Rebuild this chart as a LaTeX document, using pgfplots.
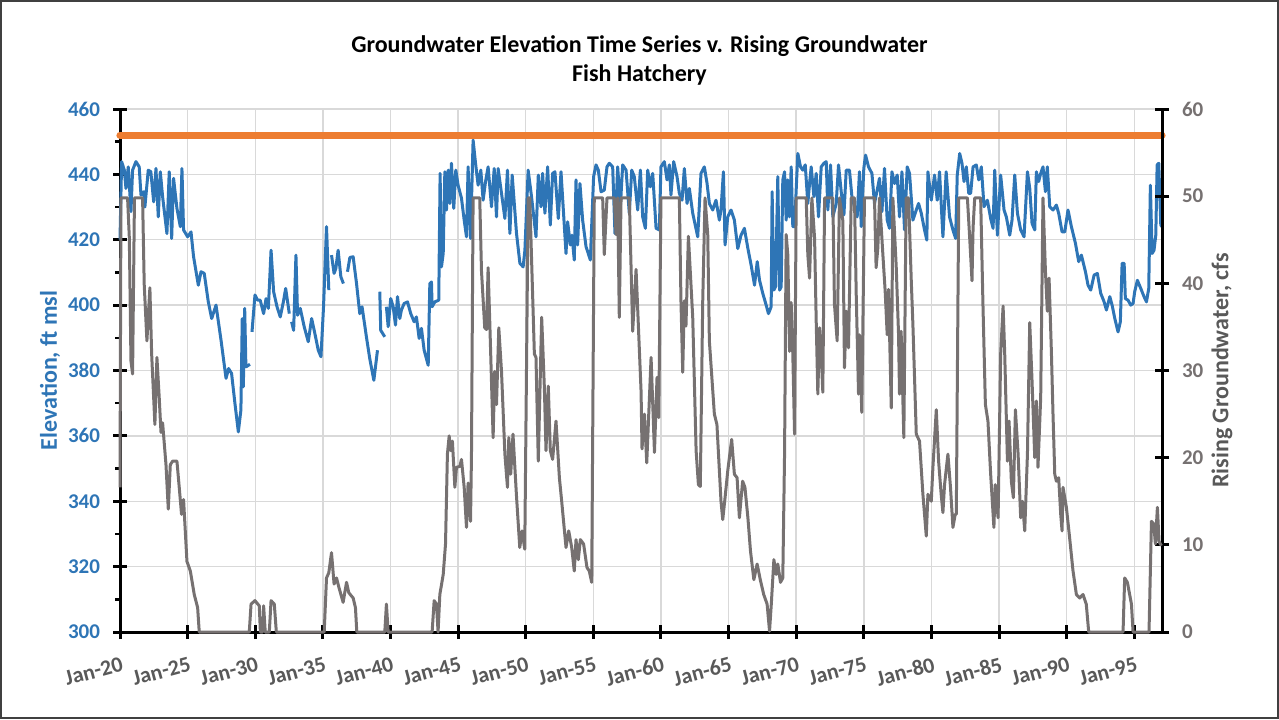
\documentclass[border=0pt]{standalone}
\usepackage{fontspec}
\setmainfont{Carlito}
\usepackage{pgfplots}
\usepackage{pgfplotstable}
\pgfplotsset{compat=1.18}
\definecolor{eblue}{RGB}{46,117,182}
\definecolor{egray}{RGB}{118,113,113}
\definecolor{eorange}{RGB}{237,125,49}
\definecolor{lgray}{RGB}{217,217,217}
\definecolor{tgray}{RGB}{89,89,89}

\pgfplotstableread{
yr el
1920.00 420
1920.12 443.9
1920.32 441.3
1920.44 435.7
1920.61 442.3
1920.81 428.6
1920.93 441.3
1921.18 443.9
1921.42 442.3
1921.55 433.7
1921.75 434.7
1921.84 430
1922.09 441.3
1922.28 440.8
1922.49 431.6
1922.66 441.8
1922.83 427
1922.98 440.8
1923.15 433.2
1923.47 421.9
1923.64 440.8
1923.82 420.4
1923.96 438.8
1924.21 429.6
1924.46 424
1924.58 441.8
1924.70 423
1925.00 420.9
1925.25 422.4
1925.44 414.8
1925.79 406.1
1925.99 410.2
1926.23 409.7
1926.53 401
1926.78 395.9
1927.10 400
1927.47 389.3
1927.84 377.6
1928.03 380.6
1928.25 379.1
1928.50 369.9
1928.75 361.2
1928.94 367.9
1929.04 395.9
1929.12 375
1929.22 399
1929.31 381.1
1929.61 381.9
nan nan
1929.76 391.8
1929.98 403.1
1930.18 401.5
1930.37 401.5
1930.62 397.4
1930.80 402
1930.97 399
1931.17 416.8
1931.36 404.1
1931.61 399.5
1931.85 396.4
1932.08 401
1932.25 405.1
1932.52 397.4
nan nan
1932.69 394.9
1932.84 392.3
1933.01 415.3
1933.13 396.9
1933.33 399
1933.62 393.4
1933.92 388.8
1934.17 395.9
1934.41 391.3
1934.66 386.2
1934.86 384.2
1935.05 399.5
1935.27 424
1935.44 404.6
nan nan
1935.64 415.3
1935.83 409.7
1935.96 411.2
1936.13 416.8
1936.33 408.7
1936.52 406.6
nan nan
1936.82 410.2
1937.00 414.6
1937.24 414.8
1937.49 406.6
1937.73 397.4
1937.90 399.5
1938.22 390.3
1938.47 383.6
1938.77 377
1939.04 386.2
nan nan
1939.21 404.1
1939.28 392.3
1939.58 390.3
nan nan
1939.70 399.5
1939.83 393.4
1940.02 402
1940.20 399.5
1940.37 393.9
1940.52 402.6
1940.69 395.9
1940.81 398.5
1941.01 400.5
1941.26 401
1941.50 397.4
1941.75 394.9
1941.92 396.4
1942.12 389.8
1942.29 392.9
1942.49 386.2
1942.79 381.6
1942.91 406.6
1943.03 407.1
1943.08 399.5
1943.28 401
1943.57 401.5
1943.67 440.3
1943.77 411.7
1943.90 415.8
1944.02 440.8
1944.14 429.1
1944.27 441.3
1944.39 431.1
1944.51 443.4
1944.68 429.6
1944.83 441.3
1945.00 436.7
1945.25 432.7
1945.45 426
1945.62 420.9
1945.74 442.3
1945.92 420.4
1946.11 450.5
1946.29 443.4
1946.48 436.7
1946.68 441.3
1946.85 432.1
1947.03 437.8
1947.22 442.3
1947.47 430.1
1947.67 441.8
1947.84 427
1947.96 441.8
1948.21 434.2
1948.46 426.5
1948.65 441.3
1948.83 421.9
1949.00 439.8
1949.32 421.9
1949.57 412.8
1949.81 411.7
1949.94 416.8
1950.18 441.3
1950.43 433.2
1950.76 420.9
1950.93 439.8
1951.13 430.1
1951.25 440.3
1951.42 428.1
1951.62 442.3
1951.82 424.5
1951.99 440.3
1952.16 440.8
1952.41 426.5
1952.61 440.8
1952.98 415.8
1953.10 425.5
1953.30 418.4
1953.42 421.4
1953.59 413.8
1953.72 438.3
1953.84 418.4
1954.01 437.2
1954.21 426
1954.46 417.9
1954.78 413.8
1955.02 439.3
1955.20 442.9
1955.37 441.3
1955.57 434.7
1955.81 435.2
1956.01 442.3
1956.18 443.4
1956.43 442.3
1956.60 421.9
1956.80 442.3
1957.00 430.1
1957.17 442.9
1957.42 441.3
1957.66 428.1
1957.84 441.3
1958.03 439.3
1958.28 429.1
1958.48 441.3
1958.65 427
1958.85 423.5
1959.02 441.3
1959.22 436.2
1959.39 440.3
1959.64 423.5
1959.88 423
1960.00 442.3
1960.25 443.9
1960.45 438.3
1960.62 442.9
1960.74 433.7
1960.94 443.9
1961.19 439.3
1961.36 434.2
1961.56 432.1
1961.73 441.8
1961.93 431.1
1962.10 435.7
1962.35 428.1
1962.72 420.9
1962.96 440.3
1963.21 442.3
1963.41 437.2
1963.58 431.1
1963.83 429.1
1964.07 432.1
1964.32 426
1964.44 429.1
1964.62 440.8
1964.74 418.4
1964.94 427
1965.18 429.1
1965.43 426
1965.68 417.3
1965.92 421.4
1966.17 423.5
1966.43 417.3
1966.67 412.2
1966.92 406.1
1967.12 413.3
1967.29 407.6
1967.53 403.6
1967.78 400
1967.95 397.4
1968.15 399.5
1968.22 434.7
1968.35 404.6
1968.47 405.6
1968.64 439.3
1968.77 404.6
1968.89 405.6
1969.01 438.3
1969.14 440.8
1969.26 426
1969.38 438.3
1969.51 427
1969.63 442.3
1969.75 424
1969.88 424
1970.12 446.4
1970.32 442.3
1970.49 441.3
1970.67 442.9
1970.86 431.1
1970.99 437.2
1971.11 442.3
1971.31 433.2
1971.48 440.3
1971.65 427
1971.85 442.3
1972.05 443.4
1972.22 443.9
1972.34 429.1
1972.54 442.9
1972.71 427
1972.96 431.1
1973.13 442.9
1973.33 434.7
1973.53 427.6
1973.70 441.3
1973.94 441.3
1974.12 433.2
1974.31 430.1
1974.51 427
1974.68 440.8
1974.81 424
1975.00 441.8
1975.13 445.9
1975.35 442.3
1975.60 440.3
1975.79 431.1
1975.99 435.2
1976.16 438.8
1976.34 428.6
1976.53 441.8
1976.73 426
1976.90 423.5
1977.08 440.8
1977.27 437.2
1977.47 439.8
1977.64 427
1977.82 440.8
1978.01 423
1978.21 442.3
1978.38 440.3
1978.63 426
1978.88 429.1
1979.05 431.1
1979.25 428.1
1979.49 423
1979.66 419.9
1979.74 440.8
1979.99 432.1
1980.23 439.8
1980.43 432.1
1980.60 440.8
1980.85 420.9
1981.09 440.8
1981.34 427
1981.59 423
1981.79 420.4
1981.91 439.8
1982.09 446.4
1982.26 443.4
1982.41 437.8
1982.58 442.3
1982.76 434.2
1982.90 434.2
1983.08 442.3
1983.32 442.9
1983.50 438.3
1983.69 442.3
1983.89 430.1
1984.14 432.1
1984.38 426.5
1984.56 423.5
1984.68 441.3
1984.88 421.4
1985.12 439.8
1985.37 429.1
1985.54 427
1985.79 421.4
1985.96 426
1986.16 439.8
1986.36 428.1
1986.60 423
1986.85 420.9
1987.10 440.8
1987.27 435.7
1987.44 425
1987.64 423
1987.76 440.8
1987.93 437.8
1988.08 440.3
1988.25 442.3
1988.43 434.7
1988.57 442.3
1988.75 430.1
1988.99 429.1
1989.24 430.6
1989.41 428.1
1989.66 422.4
1989.86 422.4
1990.10 429.1
1990.35 424
1990.65 418.9
1990.89 413.3
1991.09 415.3
1991.39 410.2
1991.58 406.1
1991.78 404.6
1992.03 409.2
1992.27 409.7
1992.52 403.6
1992.77 401
1992.94 398.5
1993.19 402.6
1993.36 400
1993.56 395.9
1993.80 391.8
1993.97 394.9
1994.10 412.8
1994.25 412.8
1994.34 402
1994.54 401.5
1994.74 400
1994.91 400.5
1995.03 404.1
1995.23 407.6
1995.48 405.1
1995.72 402.6
1995.90 401
1996.07 405.1
1996.19 436.7
1996.32 415.8
1996.46 416.8
1996.59 421.4
1996.69 442.9
1996.81 443.4
1996.96 424.5
1997.04 424
}\elev

\pgfplotstableread{
yr q
1920.00 16.6
1920.07 49.8
1920.56 49.8
1920.69 45.2
1920.81 31.1
1920.93 29.6
1921.07 49.8
1921.67 49.8
1921.79 39.9
1921.99 33.4
1922.21 39.5
1922.34 31.9
1922.58 23.8
1922.73 31.5
1922.90 26.9
1923.03 22.9
1923.15 24
1923.40 19.2
1923.57 14.1
1923.72 19.2
1923.89 19.6
1924.21 19.6
1924.38 16.6
1924.55 13.5
1924.70 15.2
1924.95 8.1
1925.20 7
1925.49 4.3
1925.74 2.8
1925.86 0
1929.56 0
1929.69 3.2
1929.98 3.6
1930.30 3
1930.38 0
1930.55 0
1930.62 3
1930.74 0
1931.04 0
1931.17 3.6
1931.41 3.2
1931.56 0
1935.10 0
1935.27 6.2
1935.44 6.8
1935.64 9.1
1935.83 5.5
1936.01 6.2
1936.19 5.1
1936.50 3.4
1936.75 5.7
1936.92 4.5
1937.24 3.9
1937.41 2.8
1937.51 0
1939.58 0
1939.70 3.2
1939.83 0
1943.08 0
1943.23 3.6
1943.40 3.2
1943.52 0
1943.65 4.3
1943.90 6.6
1944.07 10.1
1944.21 20.4
1944.34 22.5
1944.46 20.8
1944.58 21.9
1944.76 16.6
1944.88 18.9
1945.13 19
1945.25 19.8
1945.45 16.6
1945.62 12
1945.74 17.1
1945.92 12.7
1945.99 20.4
1946.11 49.8
1946.60 49.8
1946.73 41.4
1946.97 34.9
1947.10 34.7
1947.22 41.8
1947.34 35.7
1947.59 22.3
1947.71 29.9
1947.84 26.1
1948.01 34.9
1948.21 29.9
1948.46 20.4
1948.65 16.6
1948.75 22.3
1948.89 18.1
1949.06 22.7
1949.31 15.8
1949.56 9.7
1949.73 11.6
1949.93 9.5
1950.18 49.8
1950.30 49.8
1950.64 31.9
1950.76 31.5
1950.93 19.6
1951.18 36.1
1951.38 28
1951.50 20.8
1951.67 28.2
1951.82 20.8
1951.99 19.8
1952.24 24.2
1952.49 17.7
1952.66 15
1952.98 9.7
1953.18 11.6
1953.40 9.7
1953.59 7
1953.72 10.6
1953.89 8.3
1954.04 10.6
1954.28 10.1
1954.53 7.4
1954.70 7
1954.88 5.7
1955.07 49.8
1955.69 49.8
1955.81 43.3
1956.01 49.8
1956.55 49.8
1956.68 45.6
1956.80 49.8
1956.92 36.1
1957.05 49.8
1957.66 49.8
1957.91 34.5
1958.16 41.6
1958.53 27.6
1958.60 21
1958.78 25
1958.95 19.4
1959.27 31.5
1959.52 20.6
1959.71 29.2
1959.84 24.6
1960.00 49.8
1961.36 49.8
1961.48 38
1961.61 29.8
1961.73 38
1961.85 35.1
1962.03 45.4
1962.35 36.1
1962.60 20.8
1962.77 16.9
1962.91 16.7
1963.09 38
1963.26 49.8
1963.46 45.6
1963.58 33.4
1963.95 25
1964.14 23.8
1964.44 15
1964.57 12.9
1964.74 15.4
1964.94 18.5
1965.23 22.1
1965.43 18.1
1965.63 17.7
1965.80 13.1
1966.04 17.3
1966.21 16.6
1966.43 13.1
1966.62 9.3
1966.87 6
1967.11 7.8
1967.36 5.9
1967.60 4.3
1967.85 3.2
1968.03 0.1
1968.16 3.2
1968.35 8.3
1968.52 6.6
1968.64 7.8
1968.84 5.7
1969.01 6.2
1969.14 20.4
1969.26 45.6
1969.38 43.3
1969.51 32.2
1969.63 37.8
1969.75 31.9
1969.88 22.7
1970.00 49.8
1970.74 49.8
1970.86 43.3
1970.99 40.6
1971.16 49.8
1971.36 45.2
1971.48 35.7
1971.60 27.3
1971.73 34.9
1971.85 31.9
1971.97 27.5
1972.10 49.8
1972.71 49.8
1972.83 37.6
1973.03 33.4
1973.20 49.8
1973.45 47.2
1973.57 30.3
1973.70 36.8
1973.87 32.6
1974.07 49.8
1974.31 49.8
1974.44 38.7
1974.61 27.3
1974.68 34.1
1974.85 25.2
1975.05 49.8
1975.79 49.8
1975.91 41.8
1976.04 44.1
1976.16 49.8
1976.41 43.3
1976.58 39.1
1976.73 34.1
1976.83 39.3
1977.03 25.7
1977.15 49.8
1977.40 41.8
1977.57 34.1
1977.64 27.3
1977.76 34.5
1977.96 22.3
1978.13 49.8
1978.31 49.8
1978.51 40.3
1978.63 35.3
1978.88 22.7
1979.12 21.9
1979.37 15.8
1979.62 11
1979.74 15.8
1979.99 15
1980.11 18.9
1980.36 25.5
1980.53 19.6
1980.72 15.8
1980.85 13.7
1980.97 16.9
1981.22 20.4
1981.41 16.6
1981.59 12
1981.76 13.5
1981.84 13.5
1982.02 49.8
1982.66 49.8
1982.83 45.2
1983.00 40.3
1983.08 46.4
1983.20 49.8
1983.64 49.8
1983.81 37.6
1983.99 26.1
1984.18 24.2
1984.38 18.1
1984.62 12
1984.72 16.9
1984.93 13.1
1985.12 31.9
1985.30 37.4
1985.42 31.9
1985.62 19.6
1985.74 24.2
1985.91 17.3
1986.06 15.4
1986.21 25.5
1986.41 20.4
1986.60 13.1
1986.73 15
1986.90 11.6
1987.10 20.4
1987.27 35.5
1987.44 28.8
1987.64 20
1987.76 26.5
1987.88 18.9
1988.08 26.9
1988.25 49.8
1988.43 41.4
1988.57 36.8
1988.70 40.6
1988.87 32.2
1988.99 25
1989.12 18.1
1989.24 17.3
1989.41 17.7
1989.56 13.5
1989.66 11.6
1989.73 16.6
1989.98 14.3
1990.22 10.8
1990.47 7
1990.72 4.3
1990.96 3.9
1991.21 4.3
1991.45 3.2
1991.63 0
1994.17 0
1994.29 6.2
1994.49 5.7
1994.79 3.2
1994.91 0
1996.09 0
1996.27 12.7
1996.44 12.4
1996.56 10.1
1996.71 14.3
1996.83 10.4
1997.00 9.9
}\flow

\begin{document}
\begin{tikzpicture}
\useasboundingbox (0,0) rectangle (639.5pt,359.5pt);
\draw[line width=1pt, black!75] (0.5pt,0.5pt) rectangle (639pt,359pt);
\node[anchor=base, font=\fontsize{12}{14}\selectfont\bfseries] at (319.75pt,333pt) {Groundwater Elevation Time Series v. Rising Groundwater};
\node[anchor=base, font=\fontsize{12}{14}\selectfont\bfseries] at (319.75pt,318.5pt) {Fish Hatchery};

\begin{axis}[
  at={(60pt,43.5pt)}, anchor=south west,
  scale only axis, width=521pt, height=261.5pt,
  xmin=1920, xmax=1997.05, ymin=300, ymax=460,
  axis x line*=bottom, axis y line*=left,
  axis line style={-, line width=1.5pt, black},
  xtick={1920,1925,...,1995},
  xticklabels={Jan-20,Jan-25,Jan-30,Jan-35,Jan-40,Jan-45,Jan-50,Jan-55,Jan-60,Jan-65,Jan-70,Jan-75,Jan-80,Jan-85,Jan-90,Jan-95},
  ytick={300,320,...,460},
  minor y tick num=1,
  tick align=center,
  major tick length=7pt, minor tick length=2.5pt,
  major tick style={line width=1.5pt, black},
  minor y tick style={line width=1.2pt, black, xshift=-1.25pt},
  xmajorgrids, ymajorgrids,
  major grid style={lgray, line width=0.7pt},
  /pgf/number format/assume math mode=true,
  yticklabel style={text=eblue, font=\fontsize{10.5}{12}\selectfont\bfseries, xshift=-3pt},
  xticklabel style={text=tgray, font=\fontsize{11}{13}\selectfont\bfseries, rotate=15, anchor=north east, yshift=-5pt, xshift=1.5pt},
  ylabel={Elevation, ft msl},
  ylabel style={at={(axis description cs:-0.0672,0.5)}, anchor=center, text=eblue, font=\fontsize{12}{14}\selectfont\bfseries},
  unbounded coords=jump,
  clip=false,
]
\addplot[eblue, line width=1.5pt, line join=round] table[x=yr, y=el] {\elev};
\addplot[eorange, line width=3.6pt, line cap=round] coordinates {(1920,452) (1997.05,452)};
\end{axis}

\begin{axis}[
  at={(60pt,43.5pt)}, anchor=south west,
  scale only axis, width=521pt, height=261.5pt,
  xmin=1920, xmax=1997.05, ymin=0, ymax=60,
  axis x line=none, axis y line*=right,
  axis line style={-, line width=1.5pt, black},
  ytick={0,10,...,60},
  tick align=center,
  major tick length=7pt,
  major tick style={line width=1.5pt, black},
  /pgf/number format/assume math mode=true,
  yticklabel style={text=egray, font=\fontsize{10.5}{12}\selectfont\bfseries, xshift=3pt},
  ylabel={Rising Groundwater, cfs},
  ylabel style={at={(axis description cs:1.0576,0.5)}, anchor=center, text=tgray, font=\fontsize{12}{14}\selectfont\bfseries},
  clip=false,
]
\addplot[egray, line width=1.5pt, line join=round] table[x=yr, y=q] {\flow};
\end{axis}
\end{tikzpicture}
\end{document}
